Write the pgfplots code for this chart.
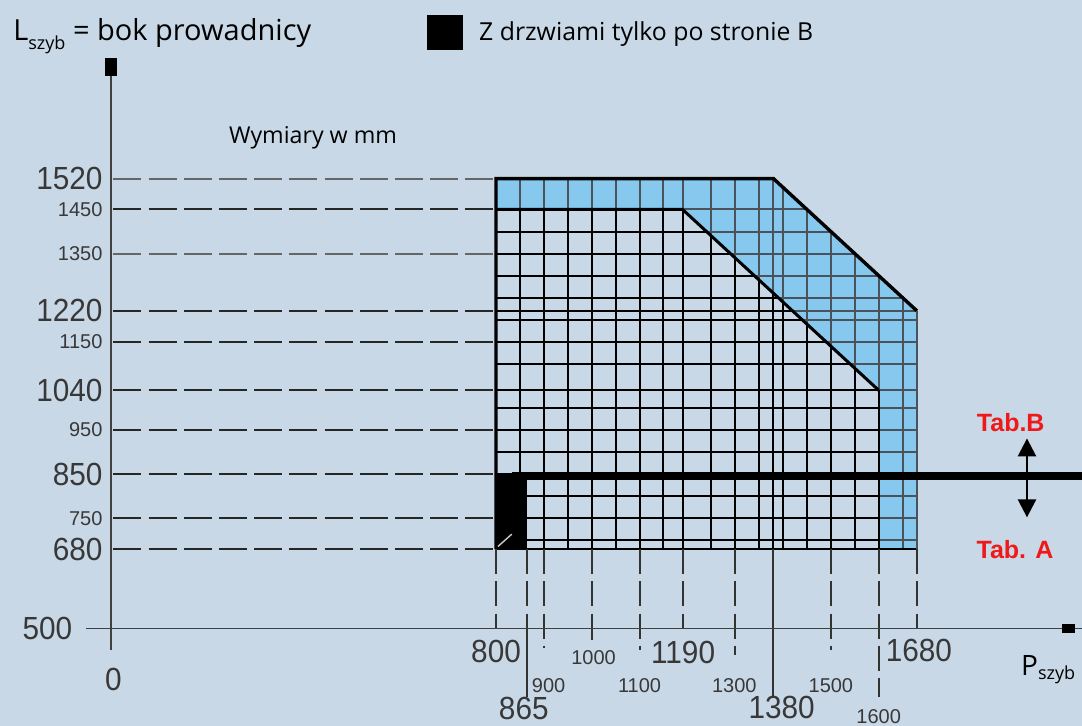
\documentclass[border=0pt]{standalone}
\usepackage{pgfplots}
\pgfplotsset{compat=1.18}
\usepackage{fontspec}
\setmainfont{Open Sans}
\newfontfamily\numfont{Liberation Sans}
\usetikzlibrary{arrows.meta}
\definecolor{bg}{HTML}{C9D8E6}
\definecolor{cellblue}{HTML}{86C8EE}
\definecolor{gridgray}{HTML}{4A525C}
\definecolor{numcol}{HTML}{383838}
\definecolor{tabred}{HTML}{F01818}
\tikzset{
 big/.style={font=\numfont\fontsize{16}{16}\selectfont, text=numcol, inner sep=0pt, xscale=0.93},
 sm/.style={font=\numfont\fontsize{10}{10}\selectfont, text=numcol, inner sep=0pt},
 tab/.style={font=\numfont\bfseries\fontsize{12.5}{12.5}\selectfont, text=tabred, inner sep=0pt},
}
\begin{document}
\begin{tikzpicture}
\begin{axis}[
  width=541pt, height=363pt, scale only axis,
  xmin=-237, xmax=2025, ymin=279, ymax=1925,
  hide axis, clip=false,
  unbounded coords=jump,
]
% background
\addplot[draw=none, fill=bg] coordinates {(-237,279) (2025,279) (2025,1925) (-237,1925)} -- cycle;
% outer blue region
\addplot[draw=none, fill=cellblue] coordinates {(800,680) (800,1520) (1380,1520) (1680,1220) (1680,680)} -- cycle;
% inner region
\addplot[draw=none, fill=bg] coordinates {(800,680) (800,1450) (1190,1450) (1600,1040) (1600,680)} -- cycle;
% gray grid (full region)
\addplot[gridgray, line width=1pt] coordinates {
(800,680)(800,1520)(800,nan)
(850,680)(850,1520)(850,nan)
(900,680)(900,1520)(900,nan)
(950,680)(950,1520)(950,nan)
(1000,680)(1000,1520)(1000,nan)
(1050,680)(1050,1520)(1050,nan)
(1100,680)(1100,1520)(1100,nan)
(1150,680)(1150,1520)(1150,nan)
(1190,680)(1190,1520)(1190,nan)
(1250,680)(1250,1520)(1250,nan)
(1300,680)(1300,1520)(1300,nan)
(1350,680)(1350,1520)(1350,nan)
(1380,680)(1380,1520)(1380,nan)
(1400,680)(1400,1500)(1400,nan)
(1450,680)(1450,1450)(1450,nan)
(1500,680)(1500,1400)(1500,nan)
(1550,680)(1550,1350)(1550,nan)
(1600,680)(1600,1300)(1600,nan)
(1650,680)(1650,1250)(1650,nan)
(1680,680)(1680,1220)(1680,nan)
(800,680)(1680,680)(1680,nan)
(800,700)(1680,700)(1680,nan)
(800,750)(1680,750)(1680,nan)
(800,800)(1680,800)(1680,nan)
(800,850)(1680,850)(1680,nan)
(800,900)(1680,900)(1680,nan)
(800,950)(1680,950)(1680,nan)
(800,1000)(1680,1000)(1680,nan)
(800,1040)(1680,1040)(1680,nan)
(800,1100)(1680,1100)(1680,nan)
(800,1150)(1680,1150)(1680,nan)
(800,1200)(1680,1200)(1680,nan)
(800,1220)(1680,1220)(1680,nan)
(800,1250)(1650,1250)(1650,nan)
(800,1300)(1600,1300)(1600,nan)
(800,1350)(1550,1350)(1550,nan)
(800,1400)(1500,1400)(1500,nan)
(800,1450)(1450,1450)(1450,nan)
(800,1520)(1380,1520)
};
% black grid (inner region)
\addplot[black, line width=1pt] coordinates {
(850,680)(850,1450)(850,nan)
(900,680)(900,1450)(900,nan)
(950,680)(950,1450)(950,nan)
(1000,680)(1000,1450)(1000,nan)
(1050,680)(1050,1450)(1050,nan)
(1100,680)(1100,1450)(1100,nan)
(1150,680)(1150,1450)(1150,nan)
(1190,680)(1190,1450)(1190,nan)
(1250,680)(1250,1390)(1250,nan)
(1300,680)(1300,1340)(1300,nan)
(1350,680)(1350,1290)(1350,nan)
(1380,680)(1380,1260)(1380,nan)
(1400,680)(1400,1240)(1400,nan)
(1450,680)(1450,1190)(1450,nan)
(1500,680)(1500,1140)(1500,nan)
(1550,680)(1550,1090)(1550,nan)
(1600,680)(1600,1040)(1600,nan)
(800,700)(1600,700)(1600,nan)
(800,750)(1600,750)(1600,nan)
(800,800)(1600,800)(1600,nan)
(800,850)(1600,850)(1600,nan)
(800,900)(1600,900)(1600,nan)
(800,950)(1600,950)(1600,nan)
(800,1000)(1600,1000)(1600,nan)
(800,1040)(1600,1040)(1600,nan)
(800,1100)(1540,1100)(1540,nan)
(800,1150)(1490,1150)(1490,nan)
(800,1200)(1440,1200)(1440,nan)
(800,1220)(1420,1220)(1420,nan)
(800,1250)(1390,1250)(1390,nan)
(800,1300)(1340,1300)(1340,nan)
(800,1350)(1290,1350)(1290,nan)
(800,1400)(1240,1400)
};
% borders
\addplot[black, line width=1.7pt] coordinates {(800,680) (800,1520) (1380,1520) (1680,1220)};
\addplot[black, line width=1.5pt] coordinates {(800,1450) (1190,1450) (1600,1040)};
\addplot[black, line width=1.3pt] coordinates {(800,680) (1680,680)};
\addplot[gridgray, line width=1.2pt] coordinates {(1680,680) (1680,1220)};
% black door block and Tab. A/B divider
\addplot[draw=none, fill=black] coordinates {(800,680) (865,680) (865,850) (800,850)} -- cycle;
\addplot[black, line width=4pt] coordinates {(833,846) (2025,846)};
\addplot[gray!40, line width=0.7pt] coordinates {(804,686) (833,714)};
% dashed guide lines (horizontal)
\addplot[black!85, line width=1pt, dash pattern=on 14pt off 3.6pt] coordinates {
(0,1450)(800,1450)(800,nan)
(0,1220)(800,1220)(800,nan)
(0,1150)(800,1150)(800,nan)
(0,1040)(800,1040)(800,nan)
(0,950)(800,950)(800,nan)
(0,850)(800,850)(800,nan)
(0,750)(800,750)(800,nan)
(0,680)(800,680)
};
\addplot[black!60, line width=1pt, dash pattern=on 14pt off 3.6pt] coordinates {
(0,1520)(800,1520)(800,nan)
(0,1350)(800,1350)
};
% dashed guide lines (vertical)
\addplot[black!80, line width=1pt, dash pattern=on 12.5pt off 3.6pt] coordinates {
(800,680)(800,500)(800,nan)
(865,680)(865,500)(865,nan)
(900,680)(900,455)(900,nan)
(1000,680)(1000,500)(1000,nan)
(1100,680)(1100,451)(1100,nan)
(1190,680)(1190,500)(1190,nan)
(1300,680)(1300,439)(1300,nan)
(1500,680)(1500,451)(1500,nan)
(1600,680)(1600,344)(1600,nan)
(1680,680)(1680,500)
};
\addplot[black!80, line width=1pt] coordinates {
(865,500)(865,344)(865,nan)
(1000,500)(1000,474)(1000,nan)
(1380,680)(1380,344)
};
% axes
\addplot[black!75, line width=0.8pt, -{Rectangle[length=9pt,width=6pt,color=black]}] coordinates {(-5,451) (-5,1793)};
\addplot[black!75, line width=0.8pt] coordinates {(-57,500) (2025,500)};
\addplot[draw=none, fill=black] coordinates {(1983,490) (2010,490) (2010,510) (1983,510)} -- cycle;
% double arrow
\addplot[black, line width=1.3pt, {Triangle[width=9pt,length=9pt]}-{Triangle[width=9pt,length=9pt]}] coordinates {(1910,752) (1910,931)};
% legend square
\addplot[draw=none, fill=black] coordinates {(656,1811) (731,1811) (731,1891) (656,1891)} -- cycle;

% y labels
\node[big, anchor=east] at (-22,1520) {1520};
\node[sm, anchor=east] at (-22,1450) {1450};
\node[sm, anchor=east] at (-22,1350) {1350};
\node[big, anchor=east] at (-22,1220) {1220};
\node[sm, anchor=east] at (-22,1150) {1150};
\node[big, anchor=east] at (-22,1040) {1040};
\node[sm, anchor=east] at (-22,950) {950};
\node[big, anchor=east] at (-22,850) {850};
\node[sm, anchor=east] at (-22,750) {750};
\node[big, anchor=east] at (-22,680) {680};
\node[big] at (-138,500) {500};
\node[big] at (0,385) {0};
% x labels
\node[big] at (800,449) {800};
\node[big] at (1191,446) {1190};
\node[big] at (1684,451) {1680};
\node[big] at (858,318) {865};
\node[big] at (1397,320) {1380};
\node[sm] at (1004,435) {1000};
\node[sm] at (910,371) {900};
\node[sm] at (1100,371) {1100};
\node[sm] at (1298,371) {1300};
\node[sm] at (1500,371) {1500};
\node[sm] at (1600,300) {1600};
% axis titles and texts
\node[anchor=base west, inner sep=0pt, font=\fontsize{14.5}{14.5}\selectfont] at (-210,1834) {L\raisebox{-4.5pt}{\fontsize{9}{9}\selectfont szyb} = bok prowadnicy};
\node[anchor=base west, inner sep=0pt, font=\fontsize{14}{14}\selectfont] at (1897,394) {P\raisebox{-2pt}{\fontsize{9}{9}\selectfont szyb}};
\node[anchor=base west, inner sep=0pt, font=\fontsize{12.4}{12.4}\selectfont] at (764,1834) {Z drzwiami tylko po stronie B};
\node[anchor=base west, inner sep=0pt, font=\fontsize{11.6}{11.6}\selectfont] at (241,1600) {Wymiary w mm};
\node[tab] at (1876,968) {Tab.B};
\node[tab] at (1885,678) {Tab. A};
\end{axis}
\pgfresetboundingbox
\path[use as bounding box] (current axis.south west) rectangle (current axis.north east);
\end{tikzpicture}
\end{document}
